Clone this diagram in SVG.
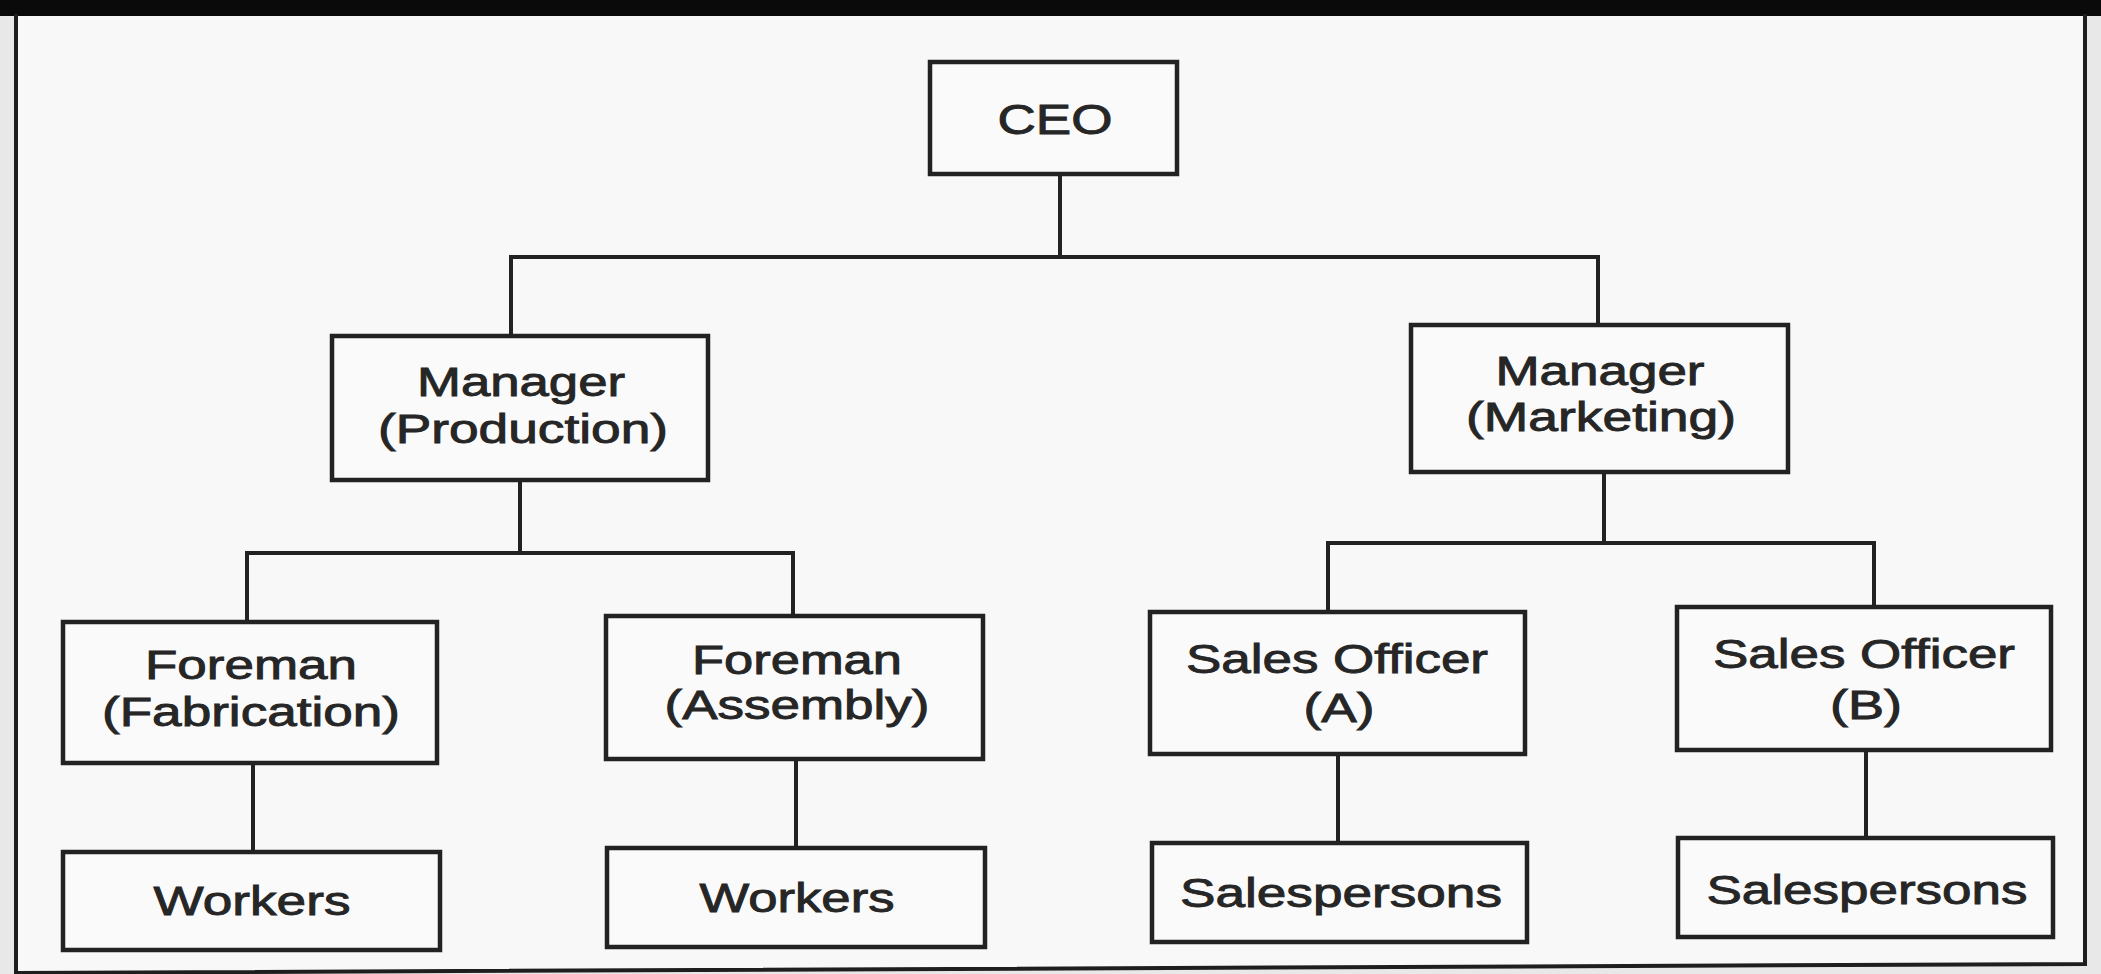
<svg xmlns="http://www.w3.org/2000/svg" width="2101" height="974" viewBox="0 0 2101 974">
<style>
.box{fill:#fbfafa;stroke:#222;stroke-width:4.5}
.lbl{font-family:"Liberation Sans",Arial,sans-serif;font-size:40px;fill:#262626;stroke:#262626;stroke-width:0.9;text-anchor:middle}
.conn{fill:none;stroke:#222;stroke-width:4}
.frame{fill:none;stroke:#1e1e1e;stroke-width:4}
</style>
<rect x="0" y="0" width="2101" height="974" fill="#e9e8e8"/>
<path d="M16,14 H2085 V964 L16,974 Z" fill="#f9f8f8"/>
<rect x="0" y="0" width="2101" height="16" fill="#0a0a0a"/>
<path class="frame" d="M16,14 V974 M16,973 L2085,964 V14"/>
<g id="connectors">
<path class="conn" d="M1060,174 V256"/>
<path class="conn" d="M511,336 V257 H1598 V325"/>
<path class="conn" d="M520,480 V553"/>
<path class="conn" d="M247,622 V553 H793 V616"/>
<path class="conn" d="M253,763 V852"/>
<path class="conn" d="M796,759 V848"/>
<path class="conn" d="M1604,472 V543"/>
<path class="conn" d="M1328,612 V543 H1874 V607"/>
<path class="conn" d="M1338,754 V843"/>
<path class="conn" d="M1866,750 V838"/>
</g>
<g id="ceo">
<rect class="box" x="930" y="62" width="247" height="112"/>
<text class="lbl" x="1055" y="134" style="font-size:42px" textLength="115" lengthAdjust="spacingAndGlyphs">CEO</text>
</g>
<g id="mgr-production">
<rect class="box" x="332" y="336" width="376" height="144"/>
<text class="lbl" x="521" y="396" textLength="208" lengthAdjust="spacingAndGlyphs">Manager</text>
<text class="lbl" x="523" y="443" textLength="290" lengthAdjust="spacingAndGlyphs">(Production)</text>
</g>
<g id="mgr-marketing">
<rect class="box" x="1411" y="325" width="377" height="147"/>
<text class="lbl" x="1600" y="385" textLength="209" lengthAdjust="spacingAndGlyphs">Manager</text>
<text class="lbl" x="1601" y="431" textLength="270" lengthAdjust="spacingAndGlyphs">(Marketing)</text>
</g>
<g id="foreman-fabrication">
<rect class="box" x="63" y="622" width="374" height="141"/>
<text class="lbl" x="251" y="679" textLength="212" lengthAdjust="spacingAndGlyphs">Foreman</text>
<text class="lbl" x="251" y="726" textLength="298" lengthAdjust="spacingAndGlyphs">(Fabrication)</text>
</g>
<g id="foreman-assembly">
<rect class="box" x="606" y="616" width="377" height="143"/>
<text class="lbl" x="797" y="674" textLength="210" lengthAdjust="spacingAndGlyphs">Foreman</text>
<text class="lbl" x="797" y="719" textLength="265" lengthAdjust="spacingAndGlyphs">(Assembly)</text>
</g>
<g id="sales-officer-a">
<rect class="box" x="1150" y="612" width="375" height="142"/>
<text class="lbl" x="1337" y="673" textLength="302" lengthAdjust="spacingAndGlyphs">Sales Officer</text>
<text class="lbl" x="1339" y="722" textLength="71" lengthAdjust="spacingAndGlyphs">(A)</text>
</g>
<g id="sales-officer-b">
<rect class="box" x="1677" y="607" width="374" height="143"/>
<text class="lbl" x="1864" y="668" textLength="302" lengthAdjust="spacingAndGlyphs">Sales Officer</text>
<text class="lbl" x="1866" y="719" textLength="72" lengthAdjust="spacingAndGlyphs">(B)</text>
</g>
<g id="workers-fabrication">
<rect class="box" x="63" y="852" width="377" height="98"/>
<text class="lbl" x="252" y="915" textLength="197" lengthAdjust="spacingAndGlyphs">Workers</text>
</g>
<g id="workers-assembly">
<rect class="box" x="607" y="848" width="378" height="99"/>
<text class="lbl" x="797" y="912" textLength="195" lengthAdjust="spacingAndGlyphs">Workers</text>
</g>
<g id="salespersons-a">
<rect class="box" x="1152" y="843" width="375" height="99"/>
<text class="lbl" x="1341" y="907" textLength="322" lengthAdjust="spacingAndGlyphs">Salespersons</text>
</g>
<g id="salespersons-b">
<rect class="box" x="1678" y="838" width="375" height="99"/>
<text class="lbl" x="1867" y="904" textLength="321" lengthAdjust="spacingAndGlyphs">Salespersons</text>
</g>
</svg>
